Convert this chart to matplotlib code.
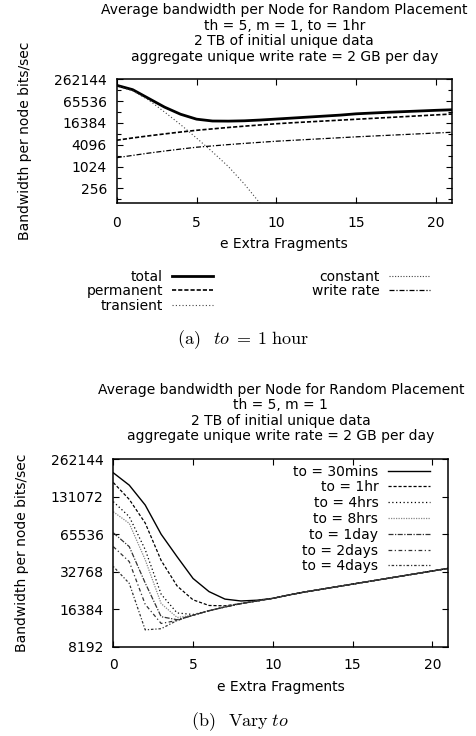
import matplotlib
matplotlib.use("Agg")
import matplotlib.pyplot as plt
from matplotlib.ticker import FixedLocator, FixedFormatter, NullFormatter

plt.rcParams['font.family'] = ['DejaVu Sans']
plt.rcParams['mathtext.fontset'] = 'cm'

# ---------------- data ----------------
e_extra = list(range(22))

# (a) to = 1 hour : components (bits/sec)
a_total = [179000, 135700, 77900, 44760, 28530, 20880, 18560, 18430, 18820, 19760,
           21030, 22380, 23820, 25360, 26990, 29330, 30790, 32320, 33690, 35120,
           36610, 37900]
a_permanent = [5481, 6339, 7231, 8192, 9217, 10297, 11268, 12331, 13400, 14462,
               15608, 16614, 17560, 18560, 19620, 20740, 21920, 23170, 24490, 25890,
               27360, 28925]
a_transient = [170570, 126600, 70240, 32768, 14766, 6294, 2610, 1024, 338, 97, 26, 6.5]
a_constant = [64, 64, 64, 64, 64, 64, 64, 64, 64, 64, 64, 64, 64, 64, 64, 64, 64,
              64, 64, 64, 64, 64]
a_write = [1808, 2091, 2419, 2759, 3126, 3517, 3822, 4153, 4482, 4804, 5149, 5442,
           5752, 6081, 6427, 6794, 7132, 7487, 7858, 8249, 8659, 9090]
a_labels = ["total", "permanent", "transient", "constant", "write rate"]
a_yticks = [256, 1024, 4096, 16384, 65536, 262144]
a_yminor = [128, 512, 2048, 8192, 32768, 131072]

# (b) vary to : total bandwidth (bits/sec); curves share the tail from e = 3 on
b_tail = [11425, 13308, 14665, 15936, 17080, 18180, 19082, 20031, 21320, 22536,
          23657, 24833, 26069, 27364, 28724, 30153, 31652, 33227, 34878]
b_30mins = [204250, 162490, 112530, 65536, 43238, 28924, 22693, 19756, 19082, 19350] + b_tail[7:]
b_1hr = [170570, 124870, 80680, 40340, 25180, 19484, 17560, 17440] + b_tail[5:]
b_4hrs = [119780, 90775, 49323, 21619, 15287, 14868] + b_tail[3:]
b_8hrs = [99333, 80125, 40905, 18180, 14066] + b_tail[2:]
b_1day = [67378, 52137, 26616, 14263, 13494] + b_tail[2:]
b_2days = [52137, 39511, 17929, 12590] + b_tail[1:]
b_4days = [36107, 26434, 11190] + b_tail[0:]
b_labels = ["to = 30mins", "to = 1hr", "to = 4hrs", "to = 8hrs", "to = 1day",
            "to = 2days", "to = 4days"]
b_yticks = [8192, 16384, 32768, 65536, 131072, 262144]
xticks = [0, 5, 10, 15, 20]

title_a = ["Average bandwidth per Node for Random Placement",
           "th = 5, m = 1, to = 1hr",
           "2 TB of initial unique data",
           "aggregate unique write rate = 2 GB per day"]
title_b = ["Average bandwidth per Node for Random Placement",
           "th = 5, m = 1",
           "2 TB of initial unique data",
           "aggregate unique write rate = 2 GB per day"]

# ---------------- figure ----------------
W, H = 477, 736
fig = plt.figure(figsize=(W / 100, H / 100), dpi=100)
FS = 10


def rect(l, t, r, b):
    return [l / W, 1 - b / H, (r - l) / W, (b - t) / H]


def style_axes(ax, yticks, yminor, ymin, ymax, xpad, ypad):
    ax.set_yscale('log', base=2)
    ax.set_xlim(0, 21)
    ax.set_ylim(ymin, ymax)
    ax.xaxis.set_major_locator(FixedLocator(xticks))
    ax.xaxis.set_major_formatter(FixedFormatter([str(v) for v in xticks]))
    ax.yaxis.set_major_locator(FixedLocator(yticks))
    ax.yaxis.set_major_formatter(FixedFormatter([str(v) for v in yticks]))
    ax.yaxis.set_minor_locator(FixedLocator(yminor))
    ax.yaxis.set_minor_formatter(NullFormatter())
    ax.xaxis.set_minor_locator(FixedLocator([]))
    ax.tick_params(which='both', direction='in', top=True, right=True,
                   labelsize=FS, width=0.8)
    ax.tick_params(which='major', length=4)
    ax.tick_params(which='minor', length=3)
    ax.tick_params(axis='x', pad=xpad)
    ax.tick_params(axis='y', pad=ypad)
    for s in ax.spines.values():
        s.set_linewidth(1.1)


# ---- (a)
ax1 = fig.add_axes(rect(116.7, 79.3, 452, 203.3))
l_tot, = ax1.plot(e_extra, a_total, color='black', lw=2.0, label=a_labels[0])
l_per, = ax1.plot(e_extra, a_permanent, color='black', lw=1.2,
                  dashes=(2.5, 1.2), label=a_labels[1])
l_tra, = ax1.plot(e_extra[:len(a_transient)], a_transient, color='#444444', lw=0.8,
                  dashes=(1, 2), label=a_labels[2])
l_con, = ax1.plot(e_extra, a_constant, color='#444444', lw=0.8,
                  dashes=(1, 1.5), label=a_labels[3])
l_wr, = ax1.plot(e_extra, a_write, color='black', lw=0.9,
                 dashes=(4, 1.5, 1, 1.5), label=a_labels[4])
style_axes(ax1, a_yticks, a_yminor, 100, 262144, 9, 7)
ax1.set_xlabel("e Extra Fragments", fontsize=FS, va='center')
ax1.xaxis.set_label_coords(0.5, (203.3 - 243.5) / 124.0)
ax1.set_ylabel("Bandwidth per node bits/sec", fontsize=FS, va='center')
ax1.yaxis.set_label_coords((25 - 116.7) / 335.3, 0.5)

cx1 = (116.7 + 452) / 2 / W
for txt, yb in zip(title_a, [14.0, 29.5, 45.0, 60.5]):
    fig.text(cx1, 1 - yb / H, txt, ha='center', va='baseline', fontsize=FS)

leg_kw = dict(frameon=False, markerfirst=False, fontsize=FS, borderpad=0,
              borderaxespad=0, handlelength=2.95, handletextpad=0.65,
              labelspacing=0.06, loc='upper right')
leg1 = fig.legend(handles=[l_tot, l_per, l_tra], bbox_to_anchor=(213 / W, 1 - 269.5 / H),
                  **leg_kw)
leg2 = fig.legend(handles=[l_con, l_wr], bbox_to_anchor=(430 / W, 1 - 269.5 / H),
                  **leg_kw)

fig.text(243 / W, 1 - 340 / H, r"$\mathrm{(a)}\;\;\; to \;=\; 1\;\mathrm{hour}$",
         ha='center', va='center', fontsize=13)

# ---- (b)
ax2 = fig.add_axes(rect(113.3, 459.3, 448.3, 646.7))
b_series = [b_30mins, b_1hr, b_4hrs, b_8hrs, b_1day, b_2days, b_4days]
b_styles = [
    dict(color='black', lw=1.0),
    dict(color='black', lw=0.9, dashes=(2.5, 1.5)),
    dict(color='black', lw=0.9, dashes=(1, 2)),
    dict(color='#888888', lw=0.9, dashes=(1, 1)),
    dict(color='#333333', lw=0.9, dashes=(4, 1.2, 1, 1.2)),
    dict(color='#333333', lw=0.9, dashes=(3, 2, 1, 2)),
    dict(color='#333333', lw=0.9, dashes=(1, 1.5, 2, 1.5)),
]
handles_b = []
for ys, lab, st in zip(b_series, b_labels, b_styles):
    h, = ax2.plot(e_extra, ys, label=lab, **st)
    handles_b.append(h)
style_axes(ax2, b_yticks, [], 8192, 262144, 8, 7)
ax2.set_xlabel("e Extra Fragments", fontsize=FS, va='center')
ax2.xaxis.set_label_coords(0.5, (646.7 - 686.7) / 187.4)
ax2.set_ylabel("Bandwidth per node bits/sec", fontsize=FS, va='center')
ax2.yaxis.set_label_coords((21.7 - 113.3) / 335.0, 0.5)

cx2 = (113.3 + 448.3) / 2 / W
for txt, yb in zip(title_b, [394.0, 409.3, 424.6, 440.0]):
    fig.text(cx2, 1 - yb / H, txt, ha='center', va='baseline', fontsize=FS)

leg3 = ax2.legend(handles=handles_b, bbox_to_anchor=(430 / W, 1 - 464.5 / H),
                  bbox_transform=fig.transFigure, frameon=False, markerfirst=False,
                  fontsize=FS, borderpad=0, borderaxespad=0, handlelength=3.0,
                  handletextpad=0.72, labelspacing=0.13, loc='upper right')

fig.text(240 / W, 1 - 721.7 / H, r"$\mathrm{(b)}\;\;\; \mathrm{Vary}\; to$",
         ha='center', va='center', fontsize=13)

fig.savefig("out.png", dpi=100)
